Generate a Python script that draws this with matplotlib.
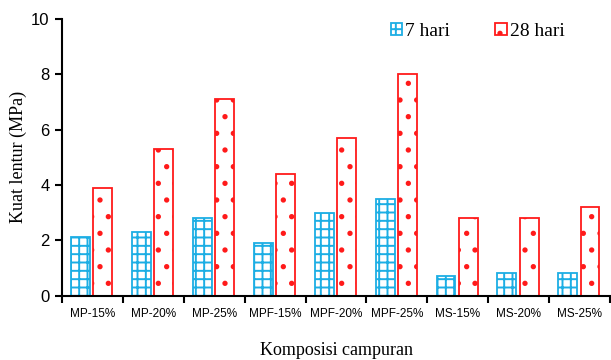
import numpy as np
import matplotlib
matplotlib.use("Agg")
import matplotlib.pyplot as plt
from matplotlib.ticker import FixedLocator

categories = ["MP-15%", "MP-20%", "MP-25%", "MPF-15%", "MPF-20%", "MPF-25%",
              "MS-15%", "MS-20%", "MS-25%"]
hari7 = [2.1, 2.3, 2.8, 1.9, 3.0, 3.5, 0.7, 0.8, 0.8]
hari28 = [3.9, 5.3, 7.1, 4.4, 5.7, 8.0, 2.8, 2.8, 3.2]

plt.rcParams['hatch.linewidth'] = 1.4
serif = ['Liberation Serif', 'DejaVu Serif']
sans = ['Liberation Sans', 'DejaVu Sans']

fig = plt.figure(figsize=(6.11, 3.6), dpi=100)
ax = fig.add_axes([0.1015, 0.179, 0.897, 0.768])

x = np.arange(len(categories))
w = 0.31
ax.bar(x - 0.195, hari7, w, facecolor='white', edgecolor='#1CAEE4',
       hatch='++', linewidth=1.3, label='7 hari')
ax.bar(x + 0.17, hari28, w, facecolor='white', edgecolor='#FF1A1A',
       hatch='.', linewidth=1.3, label='28 hari')

ax.set_xlim(-0.5, len(categories) - 0.5)
ax.set_ylim(0, 10)
ax.set_yticks([0, 2, 4, 6, 8, 10])
for s in ['top', 'right']:
    ax.spines[s].set_visible(False)
for s in ['left', 'bottom']:
    ax.spines[s].set_linewidth(1.5)

ax.set_xticks(x)
ax.set_xticklabels(categories, fontsize=8.5, family=sans)
ax.tick_params(axis='x', which='major', length=0, pad=9)
ax.xaxis.set_minor_locator(FixedLocator(np.arange(-0.5, len(categories), 1.0)))
ax.tick_params(axis='x', which='minor', length=5, width=1.5, direction='out')
ax.tick_params(axis='y', length=5, width=1.5, labelsize=12, pad=4)
for lab in ax.get_yticklabels():
    lab.set_family(sans)

ax.set_ylabel('Kuat lentur (MPa)', fontsize=13, family=serif)
ax.yaxis.set_label_coords(-0.08, 0.5)
ax.set_xlabel('Komposisi campuran', fontsize=13, family=serif)
ax.xaxis.set_label_coords(0.5, -0.2)
ax.xaxis.label.set_verticalalignment('center')
ax.yaxis.label.set_verticalalignment('center')

ax.legend(loc='upper left', bbox_to_anchor=(0.568, 1.05), ncol=2, frameon=False,
          prop={'family': serif, 'size': 14}, handlelength=0.6, handleheight=0.6,
          handletextpad=0.15, columnspacing=2.3)

fig.savefig('out.png', dpi=100)
